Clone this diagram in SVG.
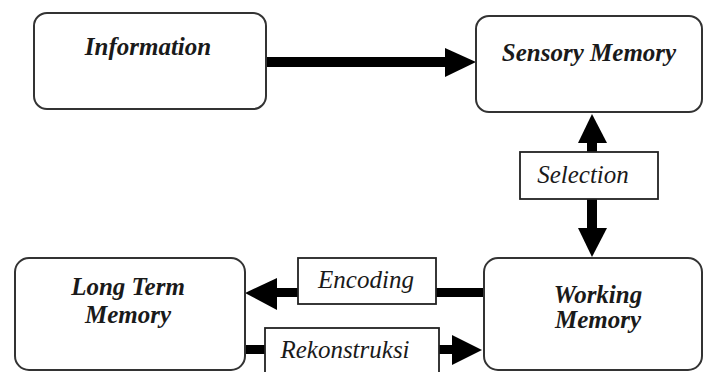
<svg xmlns="http://www.w3.org/2000/svg" width="704" height="372" viewBox="0 0 704 372">
<style>
.node{fill:#fff;stroke:#333;stroke-width:2}
.lbl{fill:#fff;stroke:#222;stroke-width:1.8}
text{font-family:"Liberation Serif","Times New Roman","DejaVu Serif",serif;font-size:25px;fill:#1a1a1a;text-anchor:middle}
.nt{font-weight:bold;font-style:italic}
.lt{font-style:italic}
.bar{fill:#000}
</style>
<rect width="704" height="372" fill="#fff"/>
<g id="connectors">
<rect class="bar" x="266" y="57" width="180" height="10"/>
<polygon class="bar" points="445,48 476,62 445,77"/>
<rect class="bar" x="587" y="142" width="10" height="88"/>
<polygon class="bar" points="578,143 592,114 607,143"/>
<polygon class="bar" points="578,228 592,257 607,228"/>
<rect class="bar" x="276" y="288" width="208" height="9"/>
<polygon class="bar" points="277,278 245,293 277,310"/>
<rect class="bar" x="245" y="345" width="208" height="9"/>
<polygon class="bar" points="452,335 482,350 452,365"/>
</g>
<g id="information">
<rect class="node" x="34" y="13" width="232" height="96" rx="13"/>
<text class="nt" x="148" y="55">Information</text>
</g>
<g id="sensory-memory">
<rect class="node" x="476" y="16" width="226" height="96" rx="13"/>
<text class="nt" x="589" y="61">Sensory Memory</text>
</g>
<g id="selection">
<rect class="lbl" x="520" y="152" width="138" height="47"/>
<text class="lt" x="583" y="183">Selection</text>
</g>
<g id="working-memory">
<rect class="node" x="484" y="258" width="218" height="112" rx="14"/>
<text class="nt" x="598" y="303">Working</text>
<text class="nt" x="598" y="328">Memory</text>
</g>
<g id="long-term-memory">
<rect class="node" x="15" y="258" width="230" height="112" rx="14"/>
<text class="nt" x="128" y="295">Long Term</text>
<text class="nt" x="128" y="323">Memory</text>
</g>
<g id="encoding">
<rect class="lbl" x="298" y="258" width="138" height="46"/>
<text class="lt" x="366" y="288">Encoding</text>
</g>
<g id="rekonstruksi">
<rect class="lbl" x="265" y="328" width="174" height="50"/>
<text class="lt" x="345" y="358">Rekonstruksi</text>
</g>
</svg>
